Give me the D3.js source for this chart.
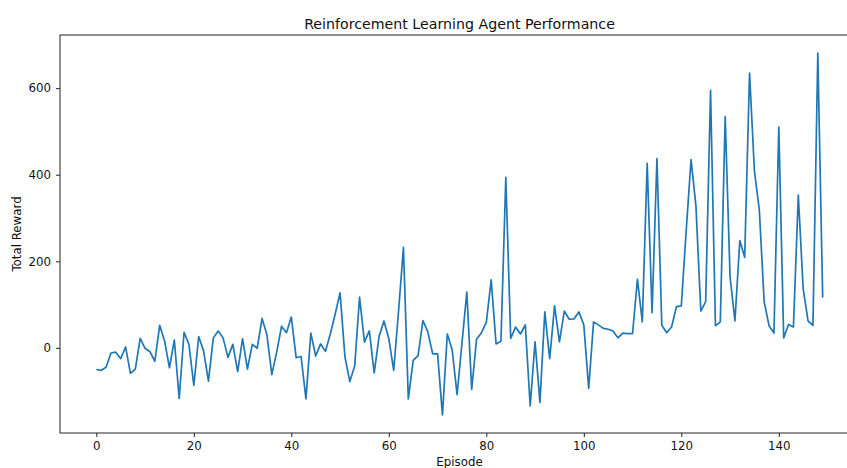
<!DOCTYPE html>
<html>
<head>
<meta charset="utf-8">
<script src="https://cdn.jsdelivr.net/npm/d3@7"></script>
<style>
  html, body { margin: 0; padding: 0; background: #fff; overflow: hidden; }
  text { font-family: "DejaVu Sans", sans-serif; fill: #111; }
</style>
</head>
<body>
<svg id="chart" width="847" height="468"></svg>
<script>
// Total reward per training episode
const rewards = [
  -50, -52, -45, -12, -10, -25, 2, -59, -49, 22,
  -1, -9, -31, 52, 16, -46, 18, -117, 36, 8,
  -87, 26, -7, -77, 23, 39, 23, -22, 8, -55,
  21, -49, 8, -1, 68, 30, -62, -10, 50, 35,
  71, -23, -20, -118, 34, -19, 9, -8, 32, 78,
  127, -21, -78, -42, 117, 13, 39, -58, 26, 62,
  21, -52, 85, 232, -118, -29, -18, 63, 37, -14,
  -14, -155, 32, -5, -108, 10, 129, -96, 20, 35,
  59, 157, 9, 15, 394, 22, 48, 32, 53, -134,
  14, -126, 83, -25, 97, 14, 85, 66, 67, 83,
  53, -94, 60, 53, 45, 43, 39, 23, 34, 33,
  33, 158, 60, 426, 81, 437, 52, 35, 48, 95,
  97, 270, 435, 328, 85, 107, 595, 51, 60, 534,
  164, 62, 248, 209, 635, 408, 319, 106, 51, 34,
  510, 23, 54, 48, 353, 136, 62, 52, 681, 116
];
const episodes = d3.range(rewards.length);

const xTicks = [0, 20, 40, 60, 80, 100, 120, 140];
const yTicks = [0, 200, 400, 600];

const titleText = "Reinforcement Learning Agent Performance";
const xLabel = "Episode";
const yLabel = "Total Reward";

const svg = d3.select("#chart");
const plot = { left: 60, top: 35, right: 859, bottom: 433 };

// Axis limits padded by 5% of the data span on each side
function padded(ext) {
  const m = (ext[1] - ext[0]) * 0.05;
  return [ext[0] - m, ext[1] + m];
}

const x = d3.scaleLinear()
  .domain(padded(d3.extent(episodes)))
  .range([plot.left, plot.right]);
const y = d3.scaleLinear()
  .domain(padded(d3.extent(rewards)))
  .range([plot.bottom, plot.top]);

// Reward curve
const line = d3.line()
  .x((d, i) => x(episodes[i]))
  .y(d => y(d));

svg.append("path")
  .datum(rewards)
  .attr("d", line)
  .attr("fill", "none")
  .attr("stroke", "#1f77b4")
  .attr("stroke-width", 1.7)
  .attr("stroke-linejoin", "round")
  .attr("stroke-linecap", "butt");

// Axes frame
svg.append("rect")
  .attr("x", plot.left)
  .attr("y", plot.top)
  .attr("width", plot.right - plot.left)
  .attr("height", plot.bottom - plot.top)
  .attr("fill", "none")
  .attr("stroke", "#222")
  .attr("stroke-width", 1);

// Bottom axis
const xAxis = svg.append("g")
  .attr("transform", `translate(0,${plot.bottom})`)
  .call(d3.axisBottom(x).tickValues(xTicks).tickSize(4).tickPadding(5).tickSizeOuter(0));
xAxis.select(".domain").remove();
xAxis.selectAll("line").attr("stroke", "#222");
xAxis.selectAll("text").style("font-size", "11.8px").attr("fill", "#111")
  .style("font-family", "DejaVu Sans, sans-serif");

// Left axis
const yAxis = svg.append("g")
  .attr("transform", `translate(${plot.left},0)`)
  .call(d3.axisLeft(y).tickValues(yTicks).tickSize(4).tickPadding(5).tickSizeOuter(0));
yAxis.select(".domain").remove();
yAxis.selectAll("line").attr("stroke", "#222");
yAxis.selectAll("text").style("font-size", "11.8px").attr("fill", "#111")
  .style("font-family", "DejaVu Sans, sans-serif");

// Title and axis labels
svg.append("text")
  .attr("x", (plot.left + plot.right) / 2)
  .attr("y", 29)
  .attr("text-anchor", "middle")
  .style("font-size", "14.2px")
  .text(titleText);

svg.append("text")
  .attr("x", (plot.left + plot.right) / 2)
  .attr("y", 466)
  .attr("text-anchor", "middle")
  .style("font-size", "11.8px")
  .text(xLabel);

svg.append("text")
  .attr("transform", `translate(21,${(plot.top + plot.bottom) / 2}) rotate(-90)`)
  .attr("text-anchor", "middle")
  .style("font-size", "11.8px")
  .text(yLabel);
</script>
</body>
</html>
